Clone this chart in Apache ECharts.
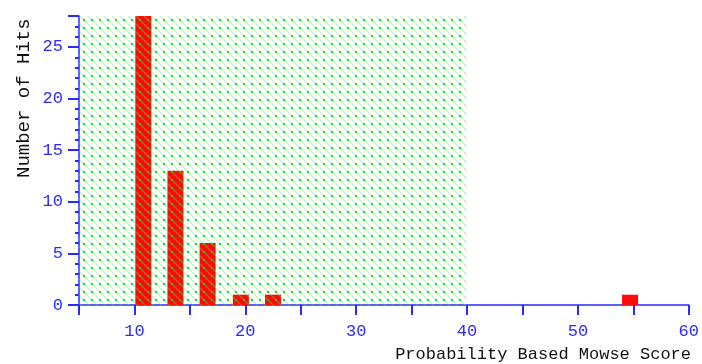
<!DOCTYPE html>
<html>
<head>
<meta charset="utf-8">
<script src="https://cdn.jsdelivr.net/npm/echarts@6/dist/echarts.min.js"></script>
<style>html,body{margin:0;padding:0;background:#fff;}#c{width:702px;height:364px;}</style>
</head>
<body>
<div id="c"></div>
<script>
// Data
const binCenters = [10.8, 13.7, 16.6, 19.6, 22.5, 54.7];
const hitCounts = [28, 13, 6, 1, 1, 1];
const thresholdRange = [5, 40];
const xAxisTitle = 'Probability Based Mowse Score';
const yAxisTitle = 'Number of Hits';

// hatch pattern tile
function makeHatch() {
  const s = 8;
  const c = document.createElement('canvas');
  c.width = s; c.height = s;
  const g = c.getContext('2d');
  g.strokeStyle = 'rgba(90,230,90,0.40)';
  g.lineWidth = 1.3;
  for (let k = -1; k <= 1; k++) {
    g.beginPath();
    g.moveTo(k * s, 0);
    g.lineTo(k * s + s, s);
    g.stroke();
  }
  g.fillStyle = 'rgba(0,220,0,0.9)';
  g.fillRect(3, 3, 2, 2);
  return c;
}

const chart = echarts.init(document.getElementById('c'), null, {renderer: 'canvas'});
const blue = '#2a2aff';
chart.setOption({
  animation: false,
  backgroundColor: '#fff',
  grid: {left: 79, right: 9, top: 16, bottom: 59, containLabel: false},
  xAxis: {
    type: 'value', min: 5, max: 60, interval: 5,
    axisLine: {show: true, lineStyle: {color: blue, width: 1.5}},
    axisTick: {show: true, length: 10, lineStyle: {color: blue, width: 2}},
    axisLabel: {
      color: blue, fontFamily: 'Liberation Mono', fontSize: 17, margin: 18,
      formatter: v => (v % 10 === 0 ? String(v) : '')
    },
    splitLine: {show: false}
  },
  yAxis: {
    type: 'value', min: 0, max: 28, interval: 5,
    axisLine: {show: true, lineStyle: {color: blue, width: 1.5}},
    axisTick: {show: true, length: 11, lineStyle: {color: blue, width: 2}},
    minorTick: {show: true, splitNumber: 5, length: 4, lineStyle: {color: blue, width: 2}},
    axisLabel: {color: blue, fontFamily: 'Liberation Mono', fontSize: 17, margin: 16,
      showMaxLabel: false,
      formatter: v => (v % 5 === 0 ? String(v) : '')},
    splitLine: {show: false}
  },
  graphic: [
    {type: 'text', rotation: Math.PI / 2, x: 14, y: 178,
     style: {text: yAxisTitle, font: '19px "Liberation Mono"', fill: '#111'}},
    {type: 'text', right: 11, top: 346,
     style: {text: xAxisTitle, font: '17px "Liberation Mono"', fill: '#111'}}
  ],
  series: [
    {
      type: 'bar', barWidth: 16,
      itemStyle: {color: '#ff0a0a'},
      data: binCenters.map((x, i) => [x, hitCounts[i]]),
      z: 2
    },
    {
      type: 'scatter', data: [], zlevel: 1, z: 5, silent: true,
      markArea: {
        silent: true, z: 10, zlevel: 1,
        itemStyle: {color: {image: makeHatch(), repeat: 'repeat'}},
        data: [[{xAxis: thresholdRange[0]}, {xAxis: thresholdRange[1]}]]
      }
    }
  ]
});
</script>
</body>
</html>
